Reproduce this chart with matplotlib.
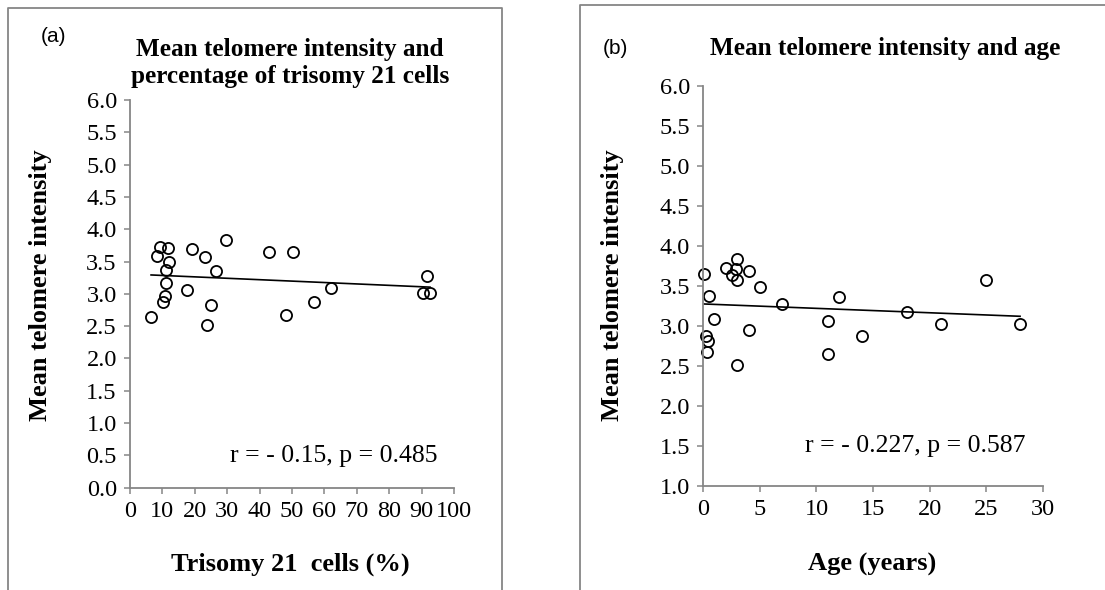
import matplotlib.pyplot as plt
import numpy as np
from matplotlib.lines import Line2D

# Panel (a): trisomy 21 cells (%) vs mean telomere intensity
trisomy_pct = [6.5, 9.3, 11.8, 8.3, 12.0, 11.0, 11.0, 10.8, 10.3, 17.6, 19.0, 23.3,
               26.4, 24.9, 23.8, 29.5, 43.0, 50.4, 48.0, 56.7, 62.0, 91.6, 90.3, 92.6]
intensity_a = [2.64, 3.72, 3.71, 3.58, 3.49, 3.37, 3.17, 2.96, 2.87, 3.06, 3.69, 3.57,
               3.36, 2.82, 2.52, 3.84, 3.64, 3.65, 2.68, 2.88, 3.09, 3.28, 3.02, 3.02]

# Panel (b): age (years) vs mean telomere intensity
age_years = [0.06, 0.5, 0.92, 0.24, 0.42, 0.3, 2.0, 2.5, 3.0, 2.9, 3.0, 4.0,
             5.0, 4.0, 3.0, 7.0, 11.0, 11.0, 12.0, 14.0, 18.0, 21.0, 25.0, 28.0]
intensity_b = [3.65, 3.375, 3.09, 2.875, 2.81, 2.68, 3.72, 3.64, 3.84, 3.71, 3.57, 3.69,
               3.49, 2.95, 2.51, 3.28, 3.06, 2.65, 3.36, 2.87, 3.17, 3.03, 3.58, 3.03]

stats_a = "r = - 0.15, p = 0.485"
stats_b = "r = - 0.227, p = 0.587"

serif = "Liberation Serif"
sans = "Liberation Sans"
gray = "#868686"
W, H = 1105, 590

fig = plt.figure(figsize=(11.05, 5.9), dpi=100)


def px(x, y):
    return x / W, 1 - y / H


def style(ax, xlim, ylim, xticks, yticks):
    ax.set_xlim(*xlim)
    ax.set_ylim(*ylim)
    ax.set_xticks(xticks)
    ax.set_yticks(yticks)
    ax.set_yticklabels([f"{v:.1f}" for v in yticks])
    for s in ("top", "right"):
        ax.spines[s].set_visible(False)
    for s in ("left", "bottom"):
        ax.spines[s].set_color(gray)
        ax.spines[s].set_linewidth(1.3)
    ax.tick_params(direction="out", length=4.5, width=1.1, color=gray,
                   labelsize=17.5, pad=5)
    for lab in ax.get_xticklabels() + ax.get_yticklabels():
        lab.set_fontfamily(serif)


def scatter_fit(ax, x, y):
    x = np.asarray(x)
    y = np.asarray(y)
    ax.plot(x, y, "o", mfc="none", mec="black", ms=8, mew=1.3, clip_on=False)
    k, b = np.polyfit(x, y, 1)
    xs = np.array([x.min(), x.max()])
    ax.plot(xs, k * xs + b, color="black", lw=1.2)


# --- panel (a)
l, b_ = px(130, 487.7)
ax1 = fig.add_axes([l, b_, 324 / W, 387.7 / H])
style(ax1, (0, 100), (0, 6), np.arange(0, 101, 10), np.arange(0, 6.01, 0.5))
scatter_fit(ax1, trisomy_pct, intensity_a)

# --- panel (b)
l, b_ = px(703.3, 486)
ax2 = fig.add_axes([l, b_, 339.4 / W, 400 / H])
style(ax2, (0, 30), (1, 6), np.arange(0, 31, 5), np.arange(1, 6.01, 0.5))
scatter_fit(ax2, age_years, intensity_b)

# titles, labels, annotations
tfont = dict(family=serif, fontsize=19, fontweight="bold", color="black")
title_font = dict(tfont, fontsize=18.2)
fig.text(*px(290, 63), "Mean telomere intensity and\npercentage of trisomy 21 cells",
         ha="center", va="center", linespacing=1.25, **title_font)
fig.text(*px(885, 48), "Mean telomere intensity and age", ha="center", va="center",
         **title_font)

fig.text(*px(290, 564), "Trisomy 21  cells (%)", ha="center", va="center", **tfont)
fig.text(*px(872, 564), "Age (years)", ha="center", va="center", **tfont)

fig.text(*px(40, 285), "Mean telomere intensity", ha="center", va="center",
         rotation=90, **tfont)
fig.text(*px(613, 285), "Mean telomere intensity", ha="center", va="center",
         rotation=90, **tfont)

fig.text(*px(230, 456), stats_a, ha="left", va="center", family=serif, fontsize=18.5)
fig.text(*px(805, 446), stats_b, ha="left", va="center", family=serif, fontsize=18.5)

fig.text(*px(54, 36), "(a)", ha="center", va="center", family=sans, fontsize=15)
fig.text(*px(615, 49), "(b)", ha="center", va="center", family=sans, fontsize=15)

# surrounding frames of the two panels
for xs, ys in [((8, 8, 502, 502), (600, 8, 8, 600)),
               ((580, 580, 1110), (600, 5, 5))]:
    fx = [x / W for x in xs]
    fy = [1 - y / H for y in ys]
    fig.add_artist(Line2D(fx, fy, color=gray, lw=1.3, transform=fig.transFigure))

fig.savefig("out.png", dpi=100)
